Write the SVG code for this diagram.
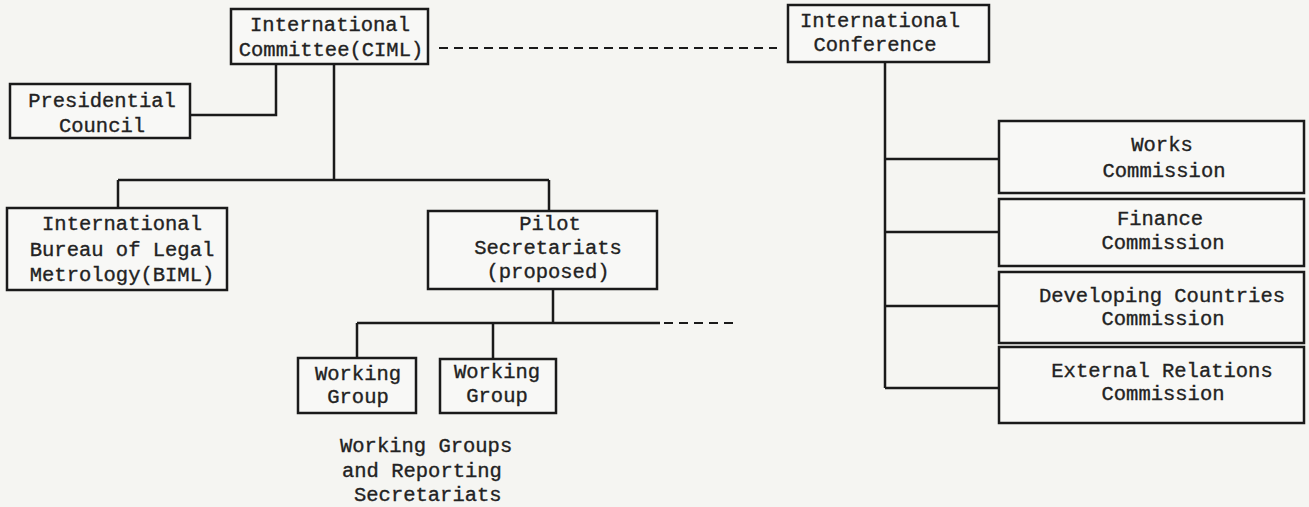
<svg xmlns="http://www.w3.org/2000/svg" width="1309" height="507" viewBox="0 0 1309 507">
<style>
.bg{fill:#f5f5f2}
.box{fill:#f8f8f6;stroke:#1a1a1a;stroke-width:2.5}
.ln{stroke:#1a1a1a;stroke-width:2.5;fill:none}
.dash{stroke:#1a1a1a;stroke-width:2;fill:none;stroke-dasharray:9 6}
text{font-family:"Liberation Mono","DejaVu Sans Mono",monospace;font-size:20.5px;fill:#222;stroke:#222;stroke-width:0.35}
.c{text-anchor:middle}
</style>
<rect class="bg" x="0" y="0" width="1309" height="507"/>
<g id="connectors">
<path class="ln" d="M276 64 V115 H190"/>
<path class="ln" d="M334 64 V180 M118 180 H549 M118 180 V208 M549 180 V211"/>
<path class="ln" d="M553 289 V323 M357 323 H660 M357 323 V358 M493 323 V359"/>
<path class="dash" d="M664 323 H735"/>
<path class="dash" d="M439 48 H777"/>
<path class="ln" d="M885 62 V388 M885 159 H999 M885 232 H999 M885 306 H999 M885 388 H999"/>
</g>
<g id="ciml"><rect class="box" x="231" y="9" width="197" height="55"/>
<text class="c" x="330" y="31">International</text><text class="c" x="331" y="56">Committee(CIML)</text></g>
<g id="presidential"><rect class="box" x="10" y="84" width="180" height="54"/>
<text class="c" x="102" y="107">Presidential</text><text class="c" x="102" y="132">Council</text></g>
<g id="biml"><rect class="box" x="7" y="208" width="220" height="82"/>
<text class="c" x="122" y="230">International</text><text class="c" x="122" y="256">Bureau of Legal</text><text class="c" x="122" y="281">Metrology(BIML)</text></g>
<g id="pilot"><rect class="box" x="428" y="211" width="229" height="78"/>
<text class="c" x="550" y="230">Pilot</text><text class="c" x="548" y="254">Secretariats</text><text class="c" x="548" y="278">(proposed)</text></g>
<g id="wg1"><rect class="box" x="298" y="358" width="118" height="55"/>
<text class="c" x="358" y="380">Working</text><text class="c" x="358" y="403">Group</text></g>
<g id="wg2"><rect class="box" x="440" y="359" width="116" height="54"/>
<text class="c" x="497" y="378">Working</text><text class="c" x="497" y="402">Group</text></g>
<g id="wg-label">
<text x="340" y="452">Working Groups</text><text x="342" y="477">and Reporting</text><text x="354" y="501">Secretariats</text></g>
<g id="conference"><rect class="box" x="788" y="5" width="201" height="57"/>
<text class="c" x="880" y="27">International</text><text class="c" x="875" y="51">Conference</text></g>
<g id="works"><rect class="box" x="999" y="121" width="305" height="72"/>
<text class="c" x="1162" y="151">Works</text><text class="c" x="1164" y="177">Commission</text></g>
<g id="finance"><rect class="box" x="999" y="199" width="305" height="67"/>
<text class="c" x="1160" y="225">Finance</text><text class="c" x="1163" y="249">Commission</text></g>
<g id="developing"><rect class="box" x="999" y="272" width="305" height="71"/>
<text class="c" x="1162" y="302">Developing Countries</text><text class="c" x="1163" y="325">Commission</text></g>
<g id="external"><rect class="box" x="999" y="347" width="305" height="76"/>
<text class="c" x="1162" y="377">External Relations</text><text class="c" x="1163" y="400">Commission</text></g>
</svg>
